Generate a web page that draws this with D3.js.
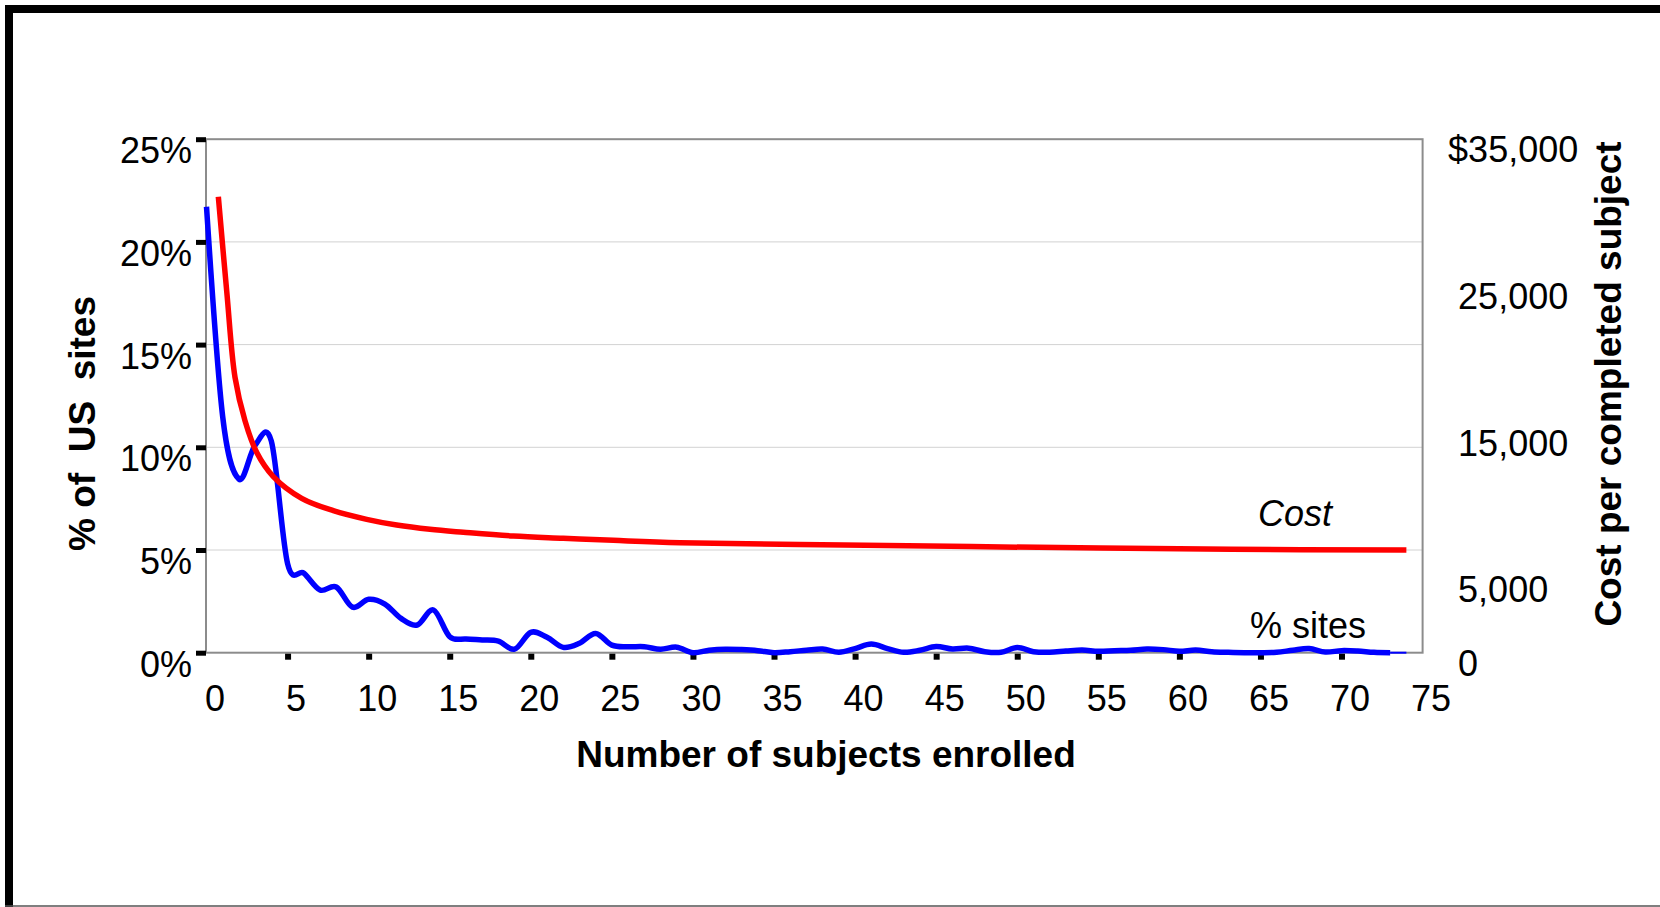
<!DOCTYPE html>
<html><head><meta charset="utf-8">
<script src="https://cdn.jsdelivr.net/npm/d3@7"></script>
<style>
html,body{margin:0;padding:0;background:#fff;}
svg{display:block;}
text{font-family:"Liberation Sans",Arial,Helvetica,sans-serif;fill:#000;}
</style></head><body>
<svg id="chart" width="1660" height="907"></svg>
<script>
// ---- data ----
const xTickValues = [0,5,10,15,20,25,30,35,40,45,50,55,60,65,70,75];
const pctTickValues = [0,5,10,15,20,25];
const costTickValues = [0,5000,15000,25000,35000];
const costTickLabels = ["0","5,000","15,000","25,000","$35,000"];

const enrolled = [0,1,2,3,4,5,6,7,8,9,10,11,12,13,14,15,16,17,18,19,20,21,22,23,24,
  25,26,27,28,29,30,31,32,33,34,35,36,37,38,39,40,41,42,43,44,45,46,47,48,49,
  50,51,52,53,54,55,56,57,58,59,60,61,62,63,64,65,66,67,68,69,70,71,72,73,74];
const pctSites = [21.71,11.48,8.45,10.1,10.3,4.34,3.87,3.05,3.2,2.22,2.6,2.37,1.67,1.35,2.08,
  0.78,0.67,0.62,0.56,0.17,0.99,0.75,0.26,0.46,0.94,0.37,0.29,0.29,0.17,0.27,
  0.0,0.12,0.17,0.15,0.1,0.0,0.05,0.12,0.18,0.02,0.2,0.42,0.2,0.02,0.12,
  0.3,0.18,0.22,0.05,0.02,0.25,0.05,0.02,0.08,0.13,0.07,0.1,0.12,0.18,0.15,
  0.07,0.13,0.05,0.02,0.0,0.0,0.02,0.12,0.2,0.03,0.1,0.08,0.02,0.0,0.0];

const costX = [0.73,1.25,1.76,2.37,3.1,4.12,5.87,7.82,9.88,11.73,13.78,15.84,18.92,22.0,25.09,29.2,39.3,51.27,63.2,74.0];
const costValues = [31080,24600,18760,15830,13640,12000,10520,9680,9090,8700,8410,8210,7950,7800,7660,7500,7340,7180,7050,7000];

// ---- layout ----
const svg = d3.select("#chart");
const L = 206.5, R = 1422.6, T = 139.2, B = 652.7;
const x = d3.scaleLinear().domain([0,75]).range([L,R]);
const yL = d3.scaleLinear().domain([0,25]).range([B,T]);
const yR = d3.scaleLinear().domain([0,35000]).range([B,T]);

// outer frame
svg.append("rect").attr("x",5).attr("y",5).attr("width",8).attr("height",902).attr("fill","#000");
svg.append("rect").attr("x",5).attr("y",5).attr("width",1655).attr("height",8).attr("fill","#000");
svg.append("line").attr("x1",5).attr("x2",1660).attr("y1",906).attr("y2",906).attr("stroke","#555").attr("stroke-width",1.5);

// gridlines
svg.append("g").selectAll("line").data([5,10,15,20]).join("line")
  .attr("x1",L).attr("x2",R).attr("y1",d=>yL(d)).attr("y2",d=>yL(d))
  .attr("stroke","#d2d2d2").attr("stroke-width",1);

// plot border
svg.append("rect").attr("x",L-0.5).attr("y",T).attr("width",R-L+0.5).attr("height",B-T)
  .attr("fill","none").attr("stroke","#8c8c8c").attr("stroke-width",2);

// left axis
const gL = svg.append("g").attr("transform",`translate(${L-0.5},0)`)
  .call(d3.axisLeft(yL).tickValues(pctTickValues).tickSize(10).tickPadding(4).tickFormat(d=>d+"%"));
gL.select(".domain").remove();
gL.selectAll(".tick line").attr("stroke","#000").attr("stroke-width",5);
gL.selectAll(".tick text").attr("font-size",36).attr("dy",23.5).style("font-family",null);

// right axis
const gR = svg.append("g").attr("transform",`translate(${R},0)`)
  .call(d3.axisRight(yR).tickValues(costTickValues).tickSize(0).tickPadding(35.5)
    .tickFormat((d,i)=>costTickLabels[i]));
gR.select(".domain").remove();
gR.selectAll(".tick text").attr("font-size",36).attr("dy",22.5).attr("text-anchor","start")
  .attr("dx",d=>costTickLabels[costTickValues.indexOf(d)].startsWith("$")?-10:0);

// bottom axis
const gB = svg.append("g").attr("transform",`translate(0,${B})`)
  .call(d3.axisBottom(x).tickValues(xTickValues).tickSize(7).tickFormat(d=>d));
gB.select(".domain").remove();
gB.selectAll(".tick line").attr("stroke","#000").attr("stroke-width",6)
  .attr("y1",1).attr("display",d=>(d===0||d===75)?"none":null);
gB.selectAll(".tick text").attr("font-size",36).attr("y",58).attr("dy",0).attr("dx",8);

// series
const lineSites = d3.line().x(d=>x(d[0])).y(d=>yL(d[1])).curve(d3.curveCatmullRom.alpha(0));
const sitesPts = enrolled.map((e,i)=>[e,pctSites[i]]);
svg.append("path").attr("d",lineSites(sitesPts.slice(0,74)))
  .attr("fill","none").attr("stroke","#0000ff").attr("stroke-width",5.5).attr("stroke-linejoin","round");
svg.append("path").attr("d",lineSites(sitesPts.slice(73)))
  .attr("fill","none").attr("stroke","#0000ff").attr("stroke-width",2);

const lineCost = d3.line().x(d=>x(d[0])).y(d=>yR(d[1])).curve(d3.curveCatmullRom.alpha(0.5));
svg.append("path").attr("d",lineCost(costX.map((c,i)=>[c,costValues[i]])))
  .attr("fill","none").attr("stroke","#ff0000").attr("stroke-width",5.5).attr("stroke-linejoin","round");

// series labels
svg.append("text").attr("x",1258).attr("y",526).attr("font-size",36).attr("font-style","italic").text("Cost");
svg.append("text").attr("x",1250).attr("y",638).attr("font-size",36).text("% sites");

// axis titles
svg.append("text").attr("x",826).attr("y",767).attr("font-size",37).attr("font-weight","bold")
  .attr("text-anchor","middle").text("Number of subjects enrolled");
svg.append("text").attr("transform","translate(95,423.5) rotate(-90)").attr("font-size",37)
  .attr("font-weight","bold").attr("text-anchor","middle").style("white-space","pre")
  .text("% of  US  sites");
svg.append("text").attr("transform","translate(1621,384) rotate(-90)").attr("font-size",37)
  .attr("font-weight","bold").attr("text-anchor","middle").text("Cost per completed subject");
</script>
</body></html>
